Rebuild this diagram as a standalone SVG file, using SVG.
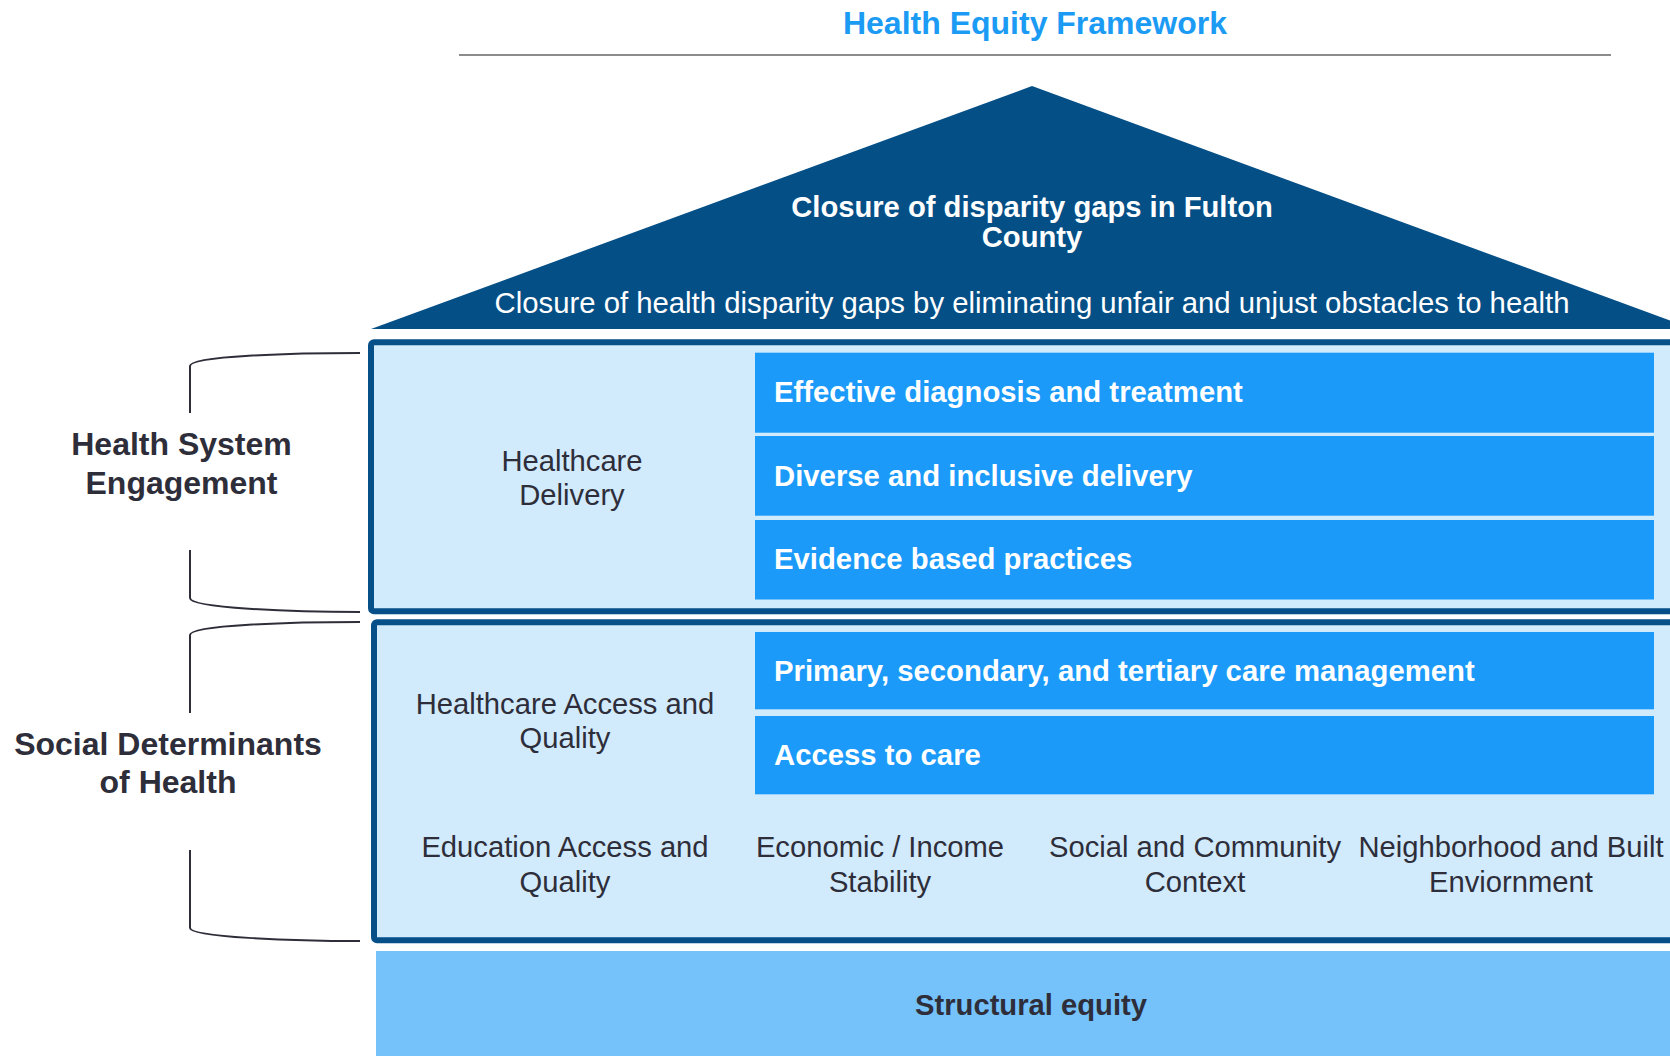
<svg xmlns="http://www.w3.org/2000/svg" width="1670" height="1056" viewBox="0 0 1670 1056">
  <style>
    text { font-family: "Liberation Sans", Arial, sans-serif; }
    .title { font-size: 32px; font-weight: bold; fill: #1c9bf4; text-anchor: middle; }
    .roof-b { font-size: 29.2px; font-weight: bold; fill: #ffffff; text-anchor: middle; }
    .roof { font-size: 29.3px; fill: #ffffff; text-anchor: middle; }
    .side { font-size: 32px; font-weight: bold; fill: #2e2e3a; text-anchor: middle; }
    .cat { font-size: 29.2px; fill: #2e2e3a; text-anchor: middle; }
    .bar-t { font-size: 29.3px; font-weight: bold; fill: #ffffff; }
    .base-t { font-size: 29.2px; font-weight: bold; fill: #2e2e3a; text-anchor: middle; }
    .frame { fill: #d1eafc; stroke: #064f89; stroke-width: 6; }
    .bar { fill: #1b9afa; }
    .brace { fill: none; stroke: #2e2e3a; stroke-width: 2; }
  </style>

  <!-- Title and rule -->
  <g id="title">
    <text class="title" x="1035" y="34">Health Equity Framework</text>
    <line x1="459" y1="55" x2="1611" y2="55" stroke="#8c8c8c" stroke-width="2"/>
  </g>

  <!-- Roof -->
  <g id="roof">
    <polygon points="1032,86 1693,329 371,329" fill="#054f87"/>
    <text class="roof-b" x="1032" y="217">Closure of disparity gaps in Fulton</text>
    <text class="roof-b" x="1032" y="247">County</text>
    <text class="roof" x="1032" y="313">Closure of health disparity gaps by eliminating unfair and unjust obstacles to health</text>
  </g>

  <!-- Health system engagement tier -->
  <g id="tier-health-system">
    <rect class="frame" x="371" y="342.3" width="1330" height="269" rx="3"/>
    <text class="cat" x="572" y="471">Healthcare</text>
    <text class="cat" x="572" y="505">Delivery</text>
  </g>
  <g id="bar-effective">
    <rect class="bar" x="755" y="352.7" width="899" height="80"/>
    <text class="bar-t" x="774" y="402">Effective diagnosis and treatment</text>
  </g>
  <g id="bar-diverse">
    <rect class="bar" x="755" y="436" width="899" height="79.7"/>
    <text class="bar-t" x="774" y="486">Diverse and inclusive delivery</text>
  </g>
  <g id="bar-evidence">
    <rect class="bar" x="755" y="520" width="899" height="79.5"/>
    <text class="bar-t" x="774" y="569">Evidence based practices</text>
  </g>

  <!-- Social determinants tier -->
  <g id="tier-social">
    <rect class="frame" x="374" y="622.3" width="1330" height="318" rx="3"/>
    <text class="cat" x="565" y="714">Healthcare Access and</text>
    <text class="cat" x="565" y="748">Quality</text>
  </g>
  <g id="bar-primary">
    <rect class="bar" x="755" y="632" width="899" height="77.3"/>
    <text class="bar-t" x="774" y="681">Primary, secondary, and tertiary care management</text>
  </g>
  <g id="bar-access">
    <rect class="bar" x="755" y="716" width="899" height="78.3"/>
    <text class="bar-t" x="774" y="765">Access to care</text>
  </g>
  <g id="cat-education">
    <text class="cat" x="565" y="857">Education Access and</text>
    <text class="cat" x="565" y="892">Quality</text>
  </g>
  <g id="cat-economic">
    <text class="cat" x="880" y="857">Economic / Income</text>
    <text class="cat" x="880" y="892">Stability</text>
  </g>
  <g id="cat-community">
    <text class="cat" x="1195" y="857">Social and Community</text>
    <text class="cat" x="1195" y="892">Context</text>
  </g>
  <g id="cat-neighborhood">
    <text class="cat" x="1511" y="857">Neighborhood and Built</text>
    <text class="cat" x="1511" y="892">Enviornment</text>
  </g>

  <!-- Foundation -->
  <g id="foundation">
    <rect x="376" y="951" width="1300" height="110" fill="#75c1fa"/>
    <text class="base-t" x="1031" y="1015">Structural equity</text>
  </g>

  <!-- Side labels -->
  <g id="label-health-system">
    <text class="side" x="181.5" y="455">Health System</text>
    <text class="side" x="181.5" y="494">Engagement</text>
  </g>
  <g id="label-social">
    <text class="side" x="168" y="755">Social Determinants</text>
    <text class="side" x="168" y="793">of Health</text>
  </g>

  <!-- Braces linking side labels to tiers -->
  <g id="connectors">
    <path class="brace" d="M360,353 C290,353 190,356 190,366 V413"/>
    <path class="brace" d="M190,550 V598 C190,608 290,612 360,612"/>
    <path class="brace" d="M360,622 C290,622 190,625 190,635 V713"/>
    <path class="brace" d="M190,850 V928 C190,937 290,941 360,941"/>
  </g>
</svg>
